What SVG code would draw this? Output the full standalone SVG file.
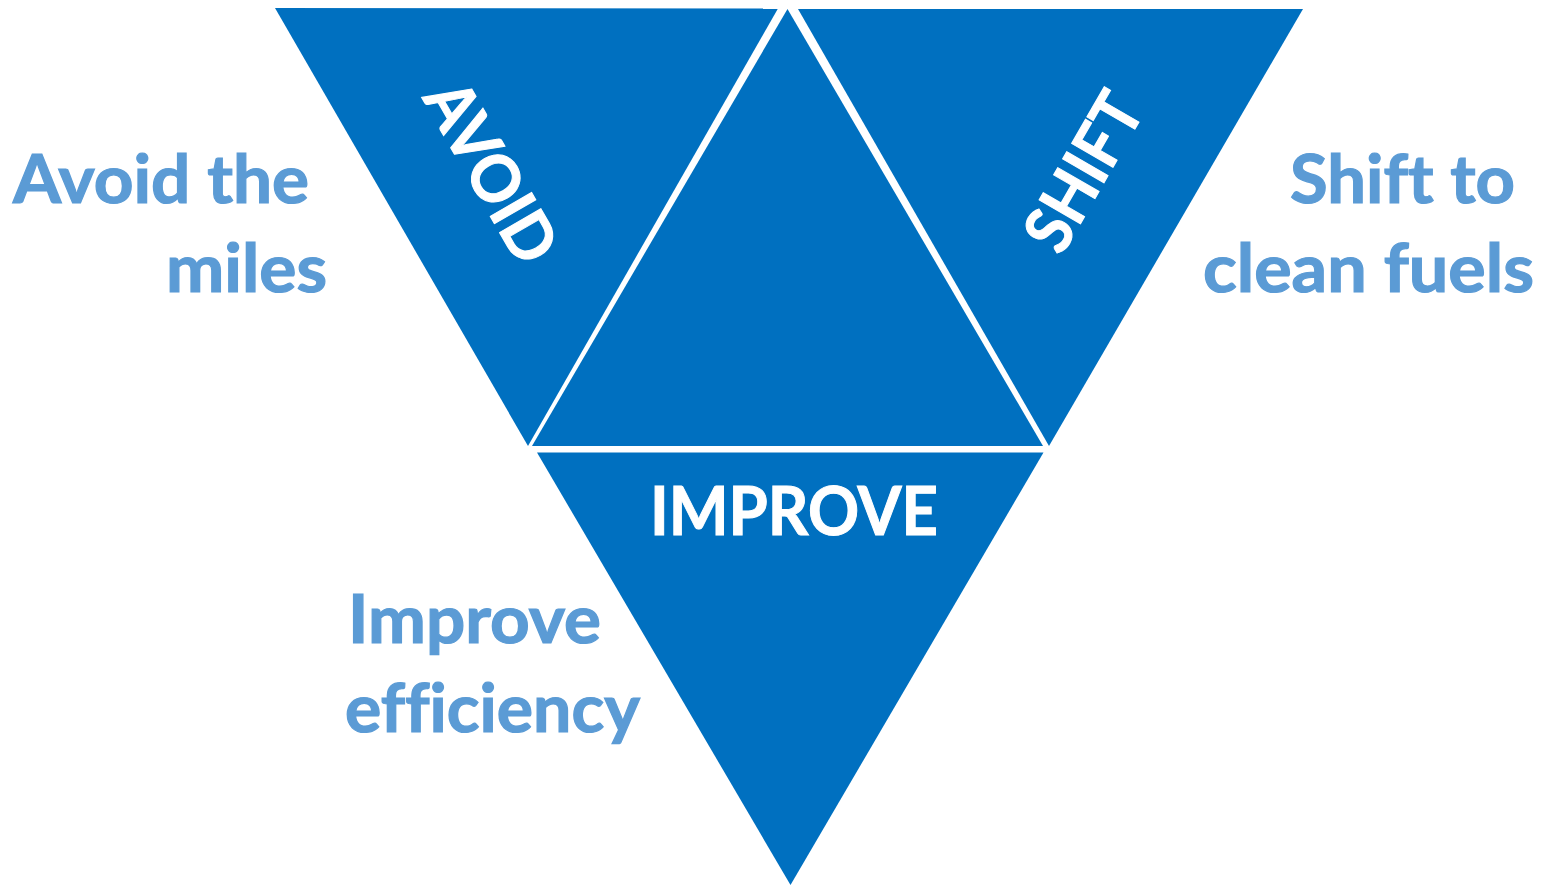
<svg xmlns="http://www.w3.org/2000/svg" width="1544" height="886" viewBox="0 0 1544 886">
<style>
.tri{fill:#0070C0}
.lbl{font-family:Lato,"Open Sans","Liberation Sans",sans-serif;font-weight:700;font-size:66px;fill:#5B9BD5;stroke:#5B9BD5;stroke-width:1.2;font-variant-ligatures:none;font-feature-settings:"liga" 0,"clig" 0}
.in{font-family:Lato,"Open Sans","Liberation Sans",sans-serif;font-weight:700;font-size:66px;fill:#FFFFFF;stroke:#FFFFFF;stroke-width:1;font-variant-ligatures:none;font-feature-settings:"liga" 0,"clig" 0}
</style>
<rect width="1544" height="886" fill="#FFFFFF"/>
<g id="avoid">
<polygon class="tri" points="275,8 778,8.5 528,446"/>
<text class="in" transform="translate(471.3,183.5) rotate(60)" x="0" y="0" text-anchor="middle" textLength="198" lengthAdjust="spacingAndGlyphs">AVOID</text>
</g>
<g id="center">
<polygon class="tri" points="787.5,9 532,446 1043,446"/>
</g>
<g id="shift">
<polygon class="tri" points="798,9 1303,9 1049,446"/>
<text class="in" transform="translate(1103.7,183.3) rotate(-60)" x="0" y="0" text-anchor="middle" textLength="170" lengthAdjust="spacingAndGlyphs">SHIFT</text>
</g>
<g id="improve">
<polygon class="tri" points="537,452.5 1043.5,452.5 790.5,885"/>
<text class="in" x="650" y="535" textLength="288" lengthAdjust="spacingAndGlyphs">IMPROVE</text>
</g>
<g id="label-avoid">
<text class="lbl" x="13" y="203" textLength="296" lengthAdjust="spacingAndGlyphs">Avoid the</text>
<text class="lbl" x="166" y="292" textLength="161" lengthAdjust="spacingAndGlyphs">miles</text>
</g>
<g id="label-shift">
<text class="lbl" x="1290" y="203" textLength="225" lengthAdjust="spacingAndGlyphs">Shift to</text>
<text class="lbl" x="1203" y="292" textLength="331" lengthAdjust="spacingAndGlyphs">clean fuels</text>
</g>
<g id="label-improve">
<text class="lbl" x="348" y="643" textLength="253" lengthAdjust="spacingAndGlyphs">Improve</text>
<text class="lbl" x="345" y="732" textLength="295" lengthAdjust="spacingAndGlyphs">efficiency</text>
</g>
<g id="connectors"></g>
</svg>
